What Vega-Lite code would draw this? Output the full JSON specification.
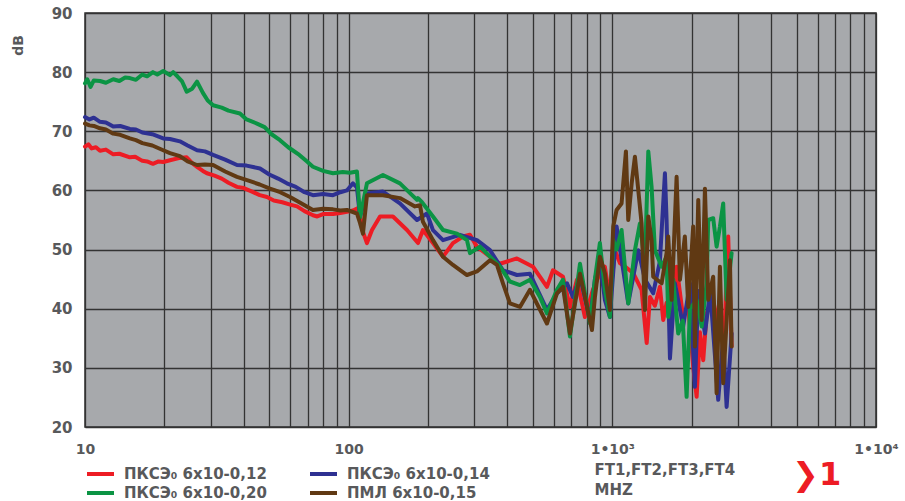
{
"$schema": "https://vega.github.io/schema/vega-lite/v6.json",
"width": 791, "height": 414,
"autosize": {"type": "none"},
"padding": {"left": 85, "top": 13, "right": 29, "bottom": 74},
"background": "white",
"config": {"font": "DejaVu Sans", "view": {"fill": "#a7a9ac", "stroke": "#303030", "strokeWidth": 1.5}},
"title": {"text": "❯1", "orient": "bottom", "anchor": "end", "color": "#ed1c24", "fontSize": 32, "fontWeight": "bold", "font": "DejaVu Sans", "dx": -57, "dy": -41, "offset": 0},
"datasets": {
"red": [[10,67.4],[10.3,67.8],[10.6,67.1],[11,67.3],[11.4,66.7],[12,66.9],[12.8,66.1],[13.5,66.2],[14.8,65.6],[15.5,65.7],[16.5,65.0],[17.2,64.9],[18.1,64.5],[19,64.9],[19.8,64.8],[21,65.1],[22.9,65.5],[24.3,65.6],[25.5,64.6],[26.6,64.0],[28,63.3],[29.0,62.9],[31,62.5],[33,62.0],[35,61.3],[37.7,60.6],[40,60.4],[43,59.8],[46,59.2],[49.0,58.9],[52,58.3],[56,58.0],[60,57.6],[63.7,57.3],[68,56.5],[73.2,55.8],[76,55.6],[80,56.0],[87.2,56.0],[93,56.2],[98.5,56.4],[103.8,56.6],[108.5,57.0],[110.4,56.0],[113.3,53.0],[117.3,51.1],[122.6,53.3],[131.5,55.6],[147.2,55.6],[166.4,53.3],[183.2,51.1],[191.3,53.3],[208.8,51.1],[227.9,48.8],[248.6,51.1],[271.3,52.2],[288.4,52.5],[306.5,50.5],[343.5,48.8],[374.8,47.6],[434.7,48.5],[500,47.1],[564.9,43.7],[595.5,46.5],[649.7,45.4],[690.7,40.3],[734,44.9],[787,38.6],[844,43.2],[897,46.0],[937,47.1],[979,41.5],[1023,49.9],[1069,47.7],[1126,47.0],[1201,46.0],[1291,43.2],[1350,34.2],[1389,42.0],[1450,40.5],[1515,43.7],[1560,38.1],[1606,41.0],[1679,39.2],[1753,47.1],[1850,39.0],[1941,40.3],[2026,30.2],[2088,25.1],[2150,36.0],[2212,31.3],[2279,39.2],[2400,42.0],[2521,37.0],[2650,34.0],[2751,52.2],[2834,33.6]],
"blue": [[10,72.4],[10.4,72.0],[10.8,72.3],[11.4,71.6],[12,71.5],[12.8,70.8],[13.6,70.9],[14.8,70.4],[15.6,70.3],[16.5,69.8],[18,69.5],[19.8,68.8],[21,68.7],[22.9,68.3],[24.5,67.6],[26.6,66.8],[28.5,66.6],[30.6,66.0],[34,65.2],[37.7,64.3],[41,64.2],[46.1,63.7],[50,62.7],[54,62.0],[58.3,61.2],[63,60.6],[68,59.7],[73.2,59.2],[80,59.4],[87.2,59.2],[93,59.7],[98.5,60.0],[103.8,61.2],[107.5,60.5],[110.4,55.6],[117.3,59.5],[134.9,59.8],[156.5,57.8],[181.6,55.0],[198.2,56.1],[208.8,53.3],[227.9,51.6],[264.3,52.5],[306.5,51.6],[343.5,49.9],[384.7,46.5],[434.7,45.7],[487.1,45.9],[564.9,39.8],[616.6,42.6],[672.9,44.3],[709,42.0],[754,45.4],[823,38.1],[859,45.0],[897,48.2],[937,41.5],[979,38.6],[1038,53.9],[1149,40.9],[1254,49.9],[1329,45.0],[1429,42.6],[1515,48.0],[1583,62.9],[1606,55.0],[1654,31.6],[1727,44.3],[1856,37.0],[1970,44.3],[2057,26.8],[2118,43.0],[2245,35.8],[2350,43.0],[2521,24.6],[2633,35.0],[2713,23.4],[2834,35.8]],
"green": [[10,78.1],[10.2,78.8],[10.5,77.5],[10.8,78.6],[11.4,78.5],[12,78.2],[12.8,78.8],[13.5,78.5],[14.2,79.1],[14.8,79.0],[15.6,78.7],[16.5,79.6],[17.2,79.3],[18.1,80.0],[18.8,79.6],[19.8,80.2],[21,79.5],[21.6,80.0],[22.4,79.3],[23.3,78.5],[24.3,76.7],[25.5,77.2],[26.6,78.4],[28,76.5],[29.2,75.2],[30.6,74.4],[33,74.0],[35,73.5],[38.7,73.0],[41,72.0],[44.9,71.3],[48,70.7],[51,69.5],[54.9,68.5],[59,67.3],[65,66.0],[69,65.0],[73.2,64.0],[80,63.3],[87.2,62.9],[95,63.1],[101.1,63.0],[107.5,63.2],[110.4,55.4],[117.3,61.2],[134.9,62.6],[156.5,61.2],[181.6,58.4],[183.2,58.7],[189.7,58.0],[208.8,55.6],[227.9,53.3],[257.5,52.7],[280.9,51.6],[288.4,49.4],[314.7,50.5],[343.5,48.8],[374.8,47.1],[408.9,44.6],[446.3,44.0],[487.1,44.9],[531.5,42.0],[564.9,39.2],[616.6,43.2],[649.7,44.9],[690.7,35.3],[754,47.6],[823,37.5],[859,45.0],[897,51.1],[937,43.2],[979,38.6],[1008,51.6],[1038,50.0],[1084,53.3],[1149,40.9],[1218,49.9],[1272,54.4],[1329,47.7],[1369,66.6],[1409,60.6],[1450,49.9],[1538,47.1],[1606,48.8],[1629,38.6],[1702,44.9],[1778,35.8],[1850,38.0],[1913,25.1],[1970,40.0],[2088,41.5],[2182,37.0],[2279,44.3],[2311,55.0],[2413,55.3],[2486,50.5],[2559,53.9],[2633,57.8],[2713,41.5],[2834,49.4]],
"brown": [[10,71.3],[10.4,71.0],[10.8,70.9],[11.4,70.5],[12,70.3],[12.8,69.6],[13.6,69.4],[14.8,68.8],[15.6,68.5],[16.5,68.0],[18,67.6],[19.8,66.8],[21,66.3],[22.9,65.8],[24.5,64.9],[26.6,64.3],[28.5,64.4],[30.6,64.3],[34,63.2],[37.7,62.3],[42,61.6],[46,61.0],[50.3,60.3],[55,59.7],[59.9,58.9],[65,58.0],[73.2,56.7],[80,56.9],[87.2,56.8],[93,56.6],[98.5,56.7],[107.5,56.1],[110.4,54.5],[113.3,52.7],[117.3,59.2],[134.9,59.2],[156.5,58.7],[178.4,57.3],[186.4,57.5],[191.3,54.7],[208.8,51.6],[227.9,48.8],[248.6,47.4],[280.9,45.7],[306.5,46.3],[343.5,48.2],[365.1,47.4],[384.7,44.3],[408.9,40.9],[446.3,40.3],[487.1,43.2],[564.9,37.5],[616.6,42.6],[649.7,43.7],[690.7,35.8],[754,45.9],[837,36.4],[859,42.0],[897,48.8],[937,46.0],[979,39.8],[1008,53.9],[1038,56.7],[1084,57.8],[1126,66.6],[1149,55.0],[1184,61.2],[1218,65.7],[1254,60.1],[1291,54.4],[1329,39.8],[1369,55.6],[1409,51.6],[1429,45.4],[1538,44.3],[1606,49.4],[1629,52.2],[1679,41.5],[1753,62.3],[1805,44.9],[1884,52.2],[1941,40.3],[2026,53.9],[2057,33.6],[2118,58.4],[2182,38.1],[2245,60.3],[2311,41.5],[2413,45.4],[2486,25.7],[2559,47.1],[2633,27.4],[2793,48.2],[2834,33.6]]
},
"layer": [
{"data": {"name": "red"}, "transform": [{"calculate": "datum[0]", "as": "f"}, {"calculate": "datum[1]", "as": "db"}], "mark": {"type": "line", "strokeWidth": 4, "strokeJoin": "round", "strokeCap": "round"}, "encoding": {"x": {"field": "f", "type": "quantitative"}, "y": {"field": "db", "type": "quantitative"}, "color": {"datum": "ПКСЭ₀ 6x10-0,12"}}},
{"data": {"name": "blue"}, "transform": [{"calculate": "datum[0]", "as": "f"}, {"calculate": "datum[1]", "as": "db"}], "mark": {"type": "line", "strokeWidth": 4, "strokeJoin": "round", "strokeCap": "round"}, "encoding": {"x": {"field": "f", "type": "quantitative"}, "y": {"field": "db", "type": "quantitative"}, "color": {"datum": "ПКСЭ₀ 6x10-0,14"}}},
{"data": {"name": "green"}, "transform": [{"calculate": "datum[0]", "as": "f"}, {"calculate": "datum[1]", "as": "db"}], "mark": {"type": "line", "strokeWidth": 4, "strokeJoin": "round", "strokeCap": "round"}, "encoding": {"x": {"field": "f", "type": "quantitative"}, "y": {"field": "db", "type": "quantitative"}, "color": {"datum": "ПКСЭ₀ 6x10-0,20"}}},
{"data": {"name": "brown"}, "transform": [{"calculate": "datum[0]", "as": "f"}, {"calculate": "datum[1]", "as": "db"}], "mark": {"type": "line", "strokeWidth": 4, "strokeJoin": "round", "strokeCap": "round"}, "encoding": {"x": {"field": "f", "type": "quantitative"}, "y": {"field": "db", "type": "quantitative"}, "color": {"datum": "ПМЛ 6x10-0,15"}}}
],
"resolve": {"scale": {"color": "shared"}},
"encoding": {
"x": {"field": "f", "type": "quantitative", "scale": {"type": "log", "domain": [10, 10000], "nice": false},
 "axis": {"values": [10,20,30,40,50,60,70,80,90,100,200,300,400,500,600,700,800,900,1000,2000,3000,4000,5000,6000,7000,8000,9000,10000],
  "labelExpr": "datum.value == 10 ? '10' : datum.value == 100 ? '100' : datum.value == 1000 ? '1•10³' : datum.value == 10000 ? '1•10⁴' : ''",
  "grid": true, "gridColor": "#333333", "gridWidth": 1.3, "gridOpacity": 1, "ticks": false, "domain": false,
  "labelFontSize": 14, "labelFontWeight": "bold", "labelColor": "#58595b", "labelPadding": 15, "labelDx": 7, "labelOverlap": false, "labelFlush": false,
  "title": ["FT1,FT2,FT3,FT4", "MHZ"], "titleX": 509, "titleY": 35, "titleAlign": "left", "titleBaseline": "top", "titleFontSize": 15, "titleFontWeight": "bold", "titleColor": "#58595b", "titleLineHeight": 20}},
"y": {"field": "db", "type": "quantitative", "scale": {"domain": [20, 90], "nice": false, "zero": false},
 "axis": {"values": [20,30,40,50,60,70,80,90], "grid": true, "gridColor": "#333333", "gridWidth": 1.3, "gridOpacity": 1, "ticks": false, "domain": false,
  "labelFontSize": 15, "labelFontWeight": "bold", "labelColor": "#58595b", "labelPadding": 13,
  "title": "dB", "titleX": -67, "titleY": 32, "titleAngle": -90, "titleAlign": "center", "titleBaseline": "middle", "titleFontSize": 14, "titleFontWeight": "bold", "titleColor": "#58595b"}},
"color": {"type": "nominal", "scale": {"domain": ["ПКСЭ₀ 6x10-0,12", "ПКСЭ₀ 6x10-0,20", "ПКСЭ₀ 6x10-0,14", "ПМЛ 6x10-0,15"], "range": ["#ed1c24", "#0b9444", "#2e3192", "#603913"]},
 "legend": {"orient": "none", "legendX": 4.5, "legendY": 450, "columns": 2, "title": null, "padding": 0, "symbolType": "M-1.5,0H1.5", "symbolSize": 324, "symbolStrokeWidth": 4, "labelFontSize": 15, "labelFontWeight": "bold", "labelColor": "#58595b", "labelOffset": 12.5, "columnPadding": 34, "rowPadding": 0}}
}
}
